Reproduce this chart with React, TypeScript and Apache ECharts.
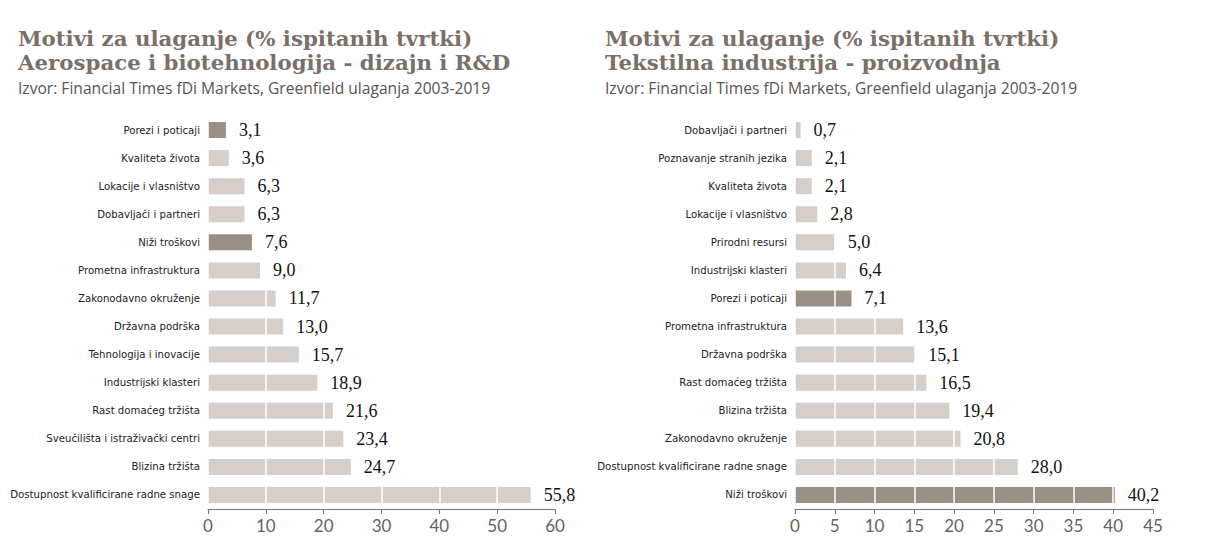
import React, { useEffect, useRef } from "react";
import * as echarts from "echarts";

const leftCategories = [
  "Porezi i poticaji",
  "Kvaliteta života",
  "Lokacije i vlasništvo",
  "Dobavljači i partneri",
  "Niži troškovi",
  "Prometna infrastruktura",
  "Zakonodavno okruženje",
  "Državna podrška",
  "Tehnologija i inovacije",
  "Industrijski klasteri",
  "Rast domaćeg tržišta",
  "Sveučilišta i istraživački centri",
  "Blizina tržišta",
  "Dostupnost kvalificirane radne snage",
];
const leftValues = [3.1, 3.6, 6.3, 6.3, 7.6, 9.0, 11.7, 13.0, 15.7, 18.9, 21.6, 23.4, 24.7, 55.8];
const leftHighlight = ["Porezi i poticaji", "Niži troškovi"];

const rightCategories = [
  "Dobavljači i partneri",
  "Poznavanje stranih jezika",
  "Kvaliteta života",
  "Lokacije i vlasništvo",
  "Prirodni resursi",
  "Industrijski klasteri",
  "Porezi i poticaji",
  "Prometna infrastruktura",
  "Državna podrška",
  "Rast domaćeg tržišta",
  "Blizina tržišta",
  "Zakonodavno okruženje",
  "Dostupnost kvalificirane radne snage",
  "Niži troškovi",
];
const rightValues = [0.7, 2.1, 2.1, 2.8, 5.0, 6.4, 7.1, 13.6, 15.1, 16.5, 19.4, 20.8, 28.0, 40.2];
const rightHighlight = ["Porezi i poticaji", "Niži troškovi"];

const leftTitle = "Motivi za ulaganje (% ispitanih tvrtki)\nAerospace i biotehnologija - dizajn i R&D";
const rightTitle = "Motivi za ulaganje (% ispitanih tvrtki)\nTekstilna industrija - proizvodnja";
const sourceText = "Izvor: Financial Times fDi Markets, Greenfield ulaganja 2003-2019";

const LIGHT = "#d6cec9";
const DARK = "#9a8f83";
const TITLE_COLOR = "#7b7067";

export default function App() {
  const ref = useRef<HTMLDivElement>(null);
  useEffect(() => {
    if (!ref.current) return;
    const chart = echarts.init(ref.current, undefined, { renderer: "svg" });

    const fmt = (p: any) => Number(p.value).toFixed(1).replace(".", ",");
    const barData = (cats: string[], vals: number[], hl: string[]) =>
      vals.map((v, i) => ({ value: v, itemStyle: { color: hl.includes(cats[i]) ? DARK : LIGHT } }));

    const titleStyle = {
      fontFamily: "DejaVu Serif",
      fontWeight: "bold",
      fontSize: 21.3,
      lineHeight: 24,
      color: TITLE_COLOR,
    };
    const subStyle = { fontFamily: "Open Sans", fontWeight: "normal", fontSize: 15.6, color: "#555555" };

    const xAxisCommon = {
      type: "value",
      z: 10,
      axisLine: { show: true, lineStyle: { color: "#777777", width: 1 } },
      axisTick: { show: true, length: 5, lineStyle: { color: "#777777" } },
      axisLabel: { fontFamily: "Lato", fontSize: 17, color: "#6a625c", margin: 8 },
      splitLine: { show: true, lineStyle: { color: "#ffffff", width: 1.5 } },
    };
    const yAxisCommon = {
      type: "category",
      inverse: true,
      axisLine: { show: false },
      axisTick: { show: false },
      axisLabel: {
        fontFamily: "'DejaVu Sans Condensed', 'Liberation Sans Narrow', Roboto",
        fontSize: 11.3,
        color: "#222222",
        margin: 8,
      },
    };
    const labelCommon = {
      show: true,
      position: "right",
      distance: 13,
      fontFamily: "Liberation Serif",
      fontSize: 18,
      color: "#111111",
      formatter: fmt,
    };

    chart.setOption({
      animation: false,
      title: [
        { text: leftTitle, left: 18, top: 26, padding: 0, textStyle: titleStyle },
        { text: sourceText, left: 18, top: 80, padding: 0, textStyle: subStyle },
        { text: rightTitle, left: 605, top: 26, padding: 0, textStyle: titleStyle },
        { text: sourceText, left: 605, top: 80, padding: 0, textStyle: subStyle },
      ],
      grid: [
        { left: 208, width: 347, top: 116, height: 393, outerBoundsMode: "none", containLabel: false },
        { left: 795, width: 358, top: 116, height: 393, outerBoundsMode: "none", containLabel: false },
      ],
      xAxis: [
        { ...xAxisCommon, gridIndex: 0, min: 0, max: 60, interval: 10 },
        { ...xAxisCommon, gridIndex: 1, min: 0, max: 45, interval: 5 },
      ],
      yAxis: [
        { ...yAxisCommon, gridIndex: 0, data: leftCategories },
        { ...yAxisCommon, gridIndex: 1, data: rightCategories },
      ],
      series: [
        {
          type: "bar",
          xAxisIndex: 0,
          yAxisIndex: 0,
          barWidth: 16,
          barGap: "-100%",
          z: 2,
          data: barData(leftCategories, leftValues, leftHighlight),
        },
        {
          type: "bar",
          xAxisIndex: 0,
          yAxisIndex: 0,
          barWidth: 16,
          barGap: "-100%",
          z: 20,
          itemStyle: { color: "rgba(0,0,0,0)" },
          label: labelCommon,
          data: leftValues,
        },
        {
          type: "bar",
          xAxisIndex: 1,
          yAxisIndex: 1,
          barWidth: 16,
          barGap: "-100%",
          z: 2,
          data: barData(rightCategories, rightValues, rightHighlight),
        },
        {
          type: "bar",
          xAxisIndex: 1,
          yAxisIndex: 1,
          barWidth: 16,
          barGap: "-100%",
          z: 20,
          itemStyle: { color: "rgba(0,0,0,0)" },
          label: labelCommon,
          data: rightValues,
        },
      ],
    });
    return () => chart.dispose();
  }, []);
  return (
    <div
      ref={ref}
      style={{ position: "absolute", left: 0, top: 0, width: 1222, height: 555, background: "#ffffff" }}
    />
  );
}
